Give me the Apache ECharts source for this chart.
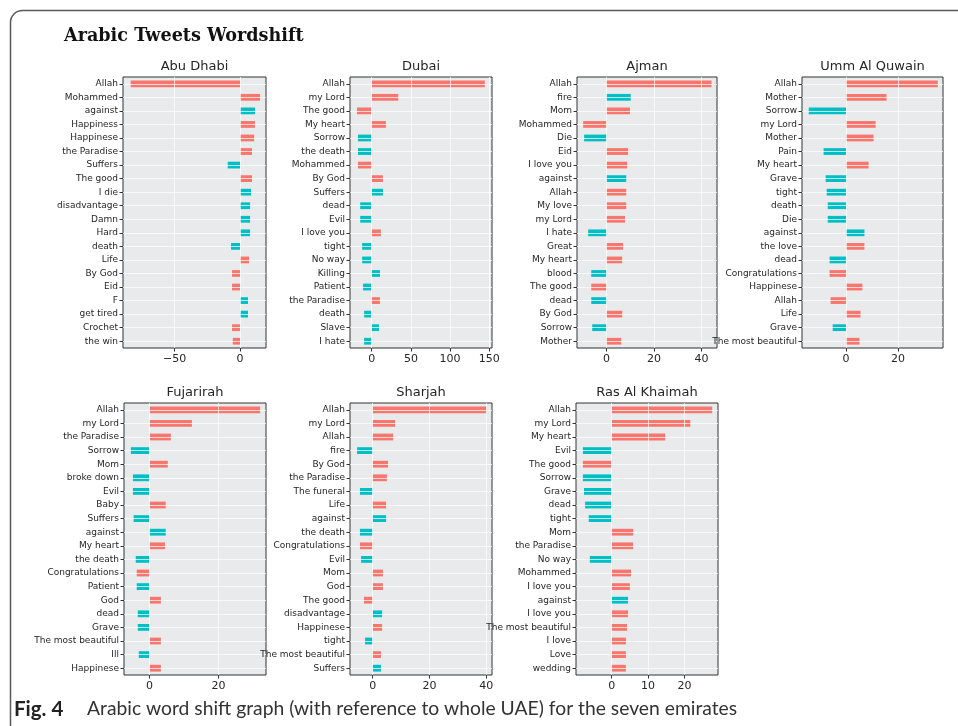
<!DOCTYPE html>
<html>
<head>
<meta charset="utf-8">
<script src="https://cdn.jsdelivr.net/npm/echarts@6/dist/echarts.min.js"></script>
<style>
  html, body { margin: 0; padding: 0; background: #ffffff; }
  #chart { width: 958px; height: 726px; }
</style>
</head>
<body>
<div id="chart"></div>
<script>
// Word shift contributions per emirate, relative to the whole UAE.
// Tone: '+' = positive word (salmon), '-' = negative word (teal).

const abuDhabiWords  = ['Allah', 'Mohammed', 'against', 'Happiness', 'Happinese', 'the Paradise', 'Suffers', 'The good', 'I die', 'disadvantage', 'Damn', 'Hard', 'death', 'Life', 'By God', 'Eid', 'F', 'get tired', 'Crochet', 'the win'];
const abuDhabiValues = [-83.7, 15.3, 11.5, 11.5, 10.8, 9.2, -9.4, 9.2, 8.4, 7.7, 7.7, 7.7, -6.9, 6.9, -6.1, -6.1, 6.1, 6.1, -6.1, -5.5];
const abuDhabiTones  = ['+', '+', '-', '+', '+', '+', '-', '+', '-', '-', '-', '-', '-', '+', '+', '+', '-', '-', '+', '+'];
const abuDhabiTicks  = [-50, 0];

const dubaiWords  = ['Allah', 'my Lord', 'The good', 'My heart', 'Sorrow', 'the death', 'Mohammed', 'By God', 'Suffers', 'dead', 'Evil', 'I love you', 'tight', 'No way', 'Killing', 'Patient', 'the Paradise', 'death', 'Slave', 'I hate'];
const dubaiValues = [144.2, 33.9, -18.7, 18.2, -17.4, -17.4, -17.4, 14.4, 14.4, -14.6, -14.6, 11.8, -12.1, -12.1, 10.6, -10.9, 10.6, -9.6, 9.3, -9.6];
const dubaiTones  = ['+', '+', '+', '+', '-', '-', '+', '+', '-', '-', '-', '+', '-', '-', '-', '-', '+', '-', '-', '-'];
const dubaiTicks  = [0, 50, 100, 150];

const ajmanWords  = ['Allah', 'fire', 'Mom', 'Mohammed', 'Die', 'Eid', 'I love you', 'against', 'Allah', 'My love', 'my Lord', 'I hate', 'Great', 'My heart', 'blood', 'The good', 'dead', 'By God', 'Sorrow', 'Mother'];
const ajmanValues = [44.2, 10.2, 9.9, -9.8, -9.4, 9.1, 8.7, 8.3, 8.3, 8.3, 7.8, -7.7, 7.0, 6.6, -6.4, -6.4, -6.4, 6.6, -6.0, 6.2];
const ajmanTones  = ['+', '-', '+', '+', '-', '+', '+', '-', '+', '+', '+', '-', '+', '+', '-', '+', '-', '+', '-', '+'];
const ajmanTicks  = [0, 20, 40];

const ummAlQuwainWords  = ['Allah', 'Mother', 'Sorrow', 'my Lord', 'Mother', 'Pain', 'My heart', 'Grave', 'tight', 'death', 'Die', 'against', 'the love', 'dead', 'Congratulations', 'Happinese', 'Allah', 'Life', 'Grave', 'The most beautiful'];
const ummAlQuwainValues = [35.3, 15.6, -14.3, 11.4, 10.6, -8.6, 8.7, -7.8, -7.4, -7.0, -7.0, 7.1, 7.1, -6.3, -6.3, 6.3, -5.9, 5.6, -5.1, 5.2];
const ummAlQuwainTones  = ['+', '+', '-', '+', '+', '-', '+', '-', '-', '-', '-', '-', '+', '-', '+', '+', '+', '+', '-', '+'];
const ummAlQuwainTicks  = [0, 20];

const fujairahWords  = ['Allah', 'my Lord', 'the Paradise', 'Sorrow', 'Mom', 'broke down', 'Evil', 'Baby', 'Suffers', 'against', 'My heart', 'the death', 'Congratulations', 'Patient', 'God', 'dead', 'Grave', 'The most beautiful', 'Ill', 'Happinese'];
const fujairahValues = [32.1, 12.3, 6.2, -5.4, 5.3, -4.8, -4.8, 4.7, -4.6, 4.7, 4.5, -4.0, -3.7, -3.7, 3.3, -3.4, -3.4, 3.3, -3.1, 3.3];
const fujairahTones  = ['+', '+', '+', '-', '+', '-', '-', '+', '-', '-', '+', '-', '+', '-', '+', '-', '-', '+', '-', '+'];
const fujairahTicks  = [0, 20];

const sharjahWords  = ['Allah', 'my Lord', 'Allah', 'fire', 'By God', 'the Paradise', 'The funeral', 'Life', 'against', 'the death', 'Congratulations', 'Evil', 'Mom', 'God', 'The good', 'disadvantage', 'Happinese', 'tight', 'The most beautiful', 'Suffers'];
const sharjahValues = [40.0, 7.9, 7.2, -5.5, 5.4, 5.0, -4.5, 4.7, 4.7, -4.5, -4.5, -4.1, 3.6, 3.6, -3.1, 3.3, 3.3, -2.7, 2.9, 2.9];
const sharjahTones  = ['+', '+', '+', '-', '+', '+', '-', '+', '-', '-', '+', '-', '+', '+', '+', '-', '+', '-', '+', '-'];
const sharjahTicks  = [0, 20, 40];

const rasAlKhaimahWords  = ['Allah', 'my Lord', 'My heart', 'Evil', 'The good', 'Sorrow', 'Grave', 'dead', 'tight', 'Mom', 'the Paradise', 'No way', 'Mohammed', 'I love you', 'against', 'I love you', 'The most beautiful', 'I love', 'Love', 'wedding'];
const rasAlKhaimahValues = [27.6, 21.6, 14.7, -7.9, -7.9, -7.9, -7.6, -7.3, -6.3, 5.9, 5.9, -6.0, 5.3, 5.0, 4.5, 4.5, 4.2, 3.9, 3.9, 3.9];
const rasAlKhaimahTones  = ['+', '+', '+', '-', '+', '-', '-', '-', '-', '+', '+', '-', '+', '+', '-', '+', '+', '+', '+', '+'];
const rasAlKhaimahTicks  = [0, 10, 20];

const POS_COLOR = '#f8766d';
const NEG_COLOR = '#00bfc4';
const PANEL_BG = '#e8eaeb';
const GRID_LINE = 'rgba(255,255,255,0.72)';
const TEXT_COLOR = '#262626';
const FONT = 'DejaVu Sans';

// Panel layout: plot rectangle and visible value range for each emirate.
const panels = [
  { title: 'Abu Dhabi',      words: abuDhabiWords,     values: abuDhabiValues,     tones: abuDhabiTones,     ticks: abuDhabiTicks,     left: 123, top: 77,  width: 143, height: 271, min: -89.6, max: 19.9 },
  { title: 'Dubai',          words: dubaiWords,        values: dubaiValues,        tones: dubaiTones,        ticks: dubaiTicks,        left: 350, top: 77,  width: 142, height: 271, min: -27.6, max: 153.4 },
  { title: 'Ajman',          words: ajmanWords,        values: ajmanValues,        tones: ajmanTones,        ticks: ajmanTicks,        left: 577, top: 77,  width: 140, height: 271, min: -12.4, max: 46.5 },
  { title: 'Umm Al Quwain',  words: ummAlQuwainWords,  values: ummAlQuwainValues,  tones: ummAlQuwainTones,  ticks: ummAlQuwainTicks,  left: 802, top: 77,  width: 141, height: 271, min: -16.9, max: 37.3 },
  { title: 'Fujarirah',      words: fujairahWords,     values: fujairahValues,     tones: fujairahTones,     ticks: fujairahTicks,     left: 124, top: 403, width: 142, height: 272, min: -7.4,  max: 33.8 },
  { title: 'Sharjah',        words: sharjahWords,      values: sharjahValues,      tones: sharjahTones,      ticks: sharjahTicks,      left: 350, top: 403, width: 142, height: 272, min: -8.0,  max: 42.0 },
  { title: 'Ras Al Khaimah', words: rasAlKhaimahWords, values: rasAlKhaimahValues, tones: rasAlKhaimahTones, ticks: rasAlKhaimahTicks, left: 576, top: 403, width: 142, height: 272, min: -9.8,  max: 29.2 }
];

const fmtTick = v => (v < 0 ? '\u2212' + Math.abs(v) : String(v));

const grid = [], xAxis = [], yAxis = [], series = [], graphic = [];

graphic.push({
  type: 'rect', z: 0, silent: true,
  shape: { x: 10.5, y: 10.5, width: 1000, height: 800, r: 12 },
  style: { fill: 'transparent', stroke: '#5a5a5a', lineWidth: 1.5 }
});
graphic.push({
  type: 'text', x: 64, y: 36, silent: true,
  style: { text: 'Arabic Tweets Wordshift', font: 'bold 17.6px "DejaVu Serif"', fill: '#111', verticalAlign: 'middle' }
});
graphic.push({
  type: 'text', x: 14, y: 709, silent: true,
  style: { text: 'Fig. 4', font: 'bold 20.5px Lato', fill: '#222', verticalAlign: 'middle' }
});
graphic.push({
  type: 'text', x: 87, y: 709, silent: true,
  style: { text: 'Arabic word shift graph (with reference to whole UAE) for the seven emirates', font: '19.3px Lato', fill: '#333', verticalAlign: 'middle' }
});

panels.forEach((p, i) => {
  grid.push({
    left: p.left, top: p.top, width: p.width, height: p.height,
    show: true, backgroundColor: PANEL_BG, borderColor: '#333', borderWidth: 1,
    containLabel: false, outerBoundsMode: 'none'
  });
  xAxis.push({
    type: 'value', gridIndex: i, min: p.min, max: p.max, z: 3,
    axisLine: { show: false, onZero: false },
    axisTick: { show: true, customValues: p.ticks, length: 3.5, lineStyle: { color: '#333', width: 1 } },
    axisLabel: { customValues: p.ticks, formatter: fmtTick, fontSize: 11, fontFamily: FONT, color: TEXT_COLOR, margin: 6 },
    splitLine: { show: true, lineStyle: { color: GRID_LINE, width: 1 } }
  });
  yAxis.push({
    type: 'category', gridIndex: i, data: p.words, inverse: true, z: 3,
    axisLine: { show: false, onZero: false },
    axisTick: { show: true, alignWithLabel: true, interval: 0, length: 3.5, lineStyle: { color: '#333', width: 1 } },
    axisLabel: { interval: 0, fontSize: 9, fontFamily: FONT, color: TEXT_COLOR, margin: 5 },
    splitLine: { show: true, interval: 0, alignWithLabel: true, lineStyle: { color: GRID_LINE, width: 1 } }
  });
  series.push({
    type: 'bar', xAxisIndex: i, yAxisIndex: i, barWidth: '50%', silent: true,
    data: p.values.map((v, j) => ({ value: v, itemStyle: { color: p.tones[j] === '+' ? POS_COLOR : NEG_COLOR } }))
  });
  graphic.push({
    type: 'text', x: p.left + p.width / 2, y: p.top - 10, silent: true,
    style: { text: p.title, font: '13px "DejaVu Sans"', fill: TEXT_COLOR, align: 'center', verticalAlign: 'middle' }
  });
});

const chart = echarts.init(document.getElementById('chart'), null, { renderer: 'canvas' });
chart.setOption({
  animation: false,
  backgroundColor: '#ffffff',
  grid, xAxis, yAxis, series, graphic
});
</script>
</body>
</html>
